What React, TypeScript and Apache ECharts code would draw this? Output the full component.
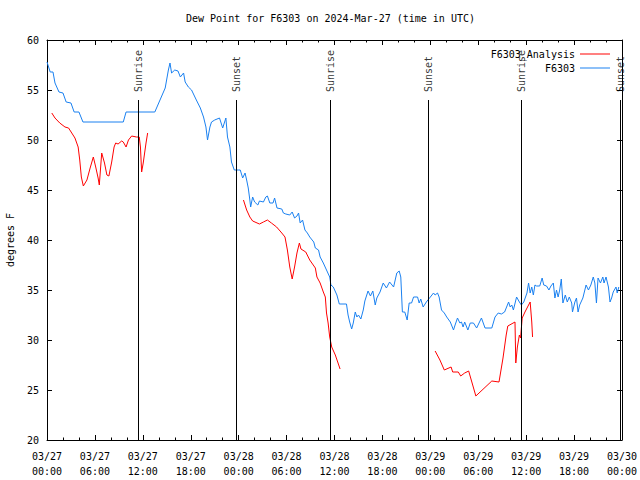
import React, { useEffect, useRef } from "react";
import * as echarts from "echarts";

const chartTitle = "Dew Point for F6303 on 2024-Mar-27 (time in UTC)";
const yAxisName = "degrees F";
const startMonth = "03";
const startDay = 27;
const seriesNames = ["F6303_Analysis", "F6303"];

// Sun events: [hours since 03/27 00:00 UTC, label]
const sunEvents: [number, string][] = [
  [11.43, "Sunrise"],
  [23.73, "Sunset"],
  [35.47, "Sunrise"],
  [47.8, "Sunset"],
  [59.4, "Sunrise"],
  [71.8, "Sunset"],
];
const eventLineTop = 54;
const eventLabelBase = 54.8;

// Observed dew point F6303: [hour, degF]
const f6303: [number, number][] = [
  [0, 57.8], [0.4, 56.8], [0.75, 56.8], [1, 55.7], [1.5, 54.8], [2, 54.7], [2.4, 53.8], [3, 53.7],
  [3.4, 52.8], [4, 52.8], [4.5, 51.8], [9.55, 51.8], [9.9, 52.8], [13.5, 52.8], [14.15, 54], [14.8, 55.2],
  [15.2, 57], [15.4, 57.7], [15.6, 56.7], [16, 57], [16.4, 56.9], [16.7, 56.3], [17.1, 56.7], [17.3, 55.8],
  [17.7, 55.3], [18.1, 55], [18.4, 54.5], [18.7, 54], [19.2, 53.2], [19.6, 52.3], [19.9, 51.3], [20.1, 50],
  [20.4, 51.3], [20.6, 51.8], [21, 52], [21.6, 52.2], [22, 51.2], [22.2, 51.7], [22.4, 52.2], [22.6, 50.3],
  [22.9, 49.3], [23.1, 47.8], [23.45, 47], [23.95, 47], [24.2, 47], [24.5, 46.2], [24.8, 46.7], [25, 46],
  [25.2, 45.2], [25.4, 44], [25.5, 43.3], [25.75, 44.3], [26, 43.8], [26.4, 43.5], [26.6, 43.9], [27.1, 43.8],
  [27.4, 44.3], [27.6, 44.4], [27.9, 43.7], [28.3, 43.7], [28.5, 44.2], [28.8, 43.2], [29.4, 43.1], [29.6, 42.7],
  [29.9, 42.6], [30.4, 42.5], [30.7, 42.8], [31, 42.2], [31.3, 42.4], [31.5, 42.7], [31.7, 41.7], [32, 42],
  [32.3, 41], [32.6, 40.7], [32.9, 40.3], [33.4, 39.8], [33.6, 39.2], [34, 39], [34.2, 38.3], [34.6, 37.7],
  [35, 37], [35.4, 36.3], [35.55, 35.5], [35.85, 35.3], [36.3, 34.5], [36.6, 33.6], [37.5, 33.6], [37.7, 32.5],
  [37.9, 31.8], [38.15, 31.1], [38.35, 31.7], [38.6, 32.8], [38.8, 32.3], [39, 32.5], [39.3, 32.1], [39.6, 33],
  [39.8, 33.9], [40.2, 34.9], [40.5, 34.4], [40.8, 34.9], [41.1, 33.5], [41.3, 34.2], [41.7, 34.8], [42.1, 35.7],
  [42.5, 35.2], [42.9, 35.8], [43.4, 35.3], [43.8, 36.7], [44.1, 36.9], [44.3, 36.3], [44.5, 32.8], [44.8, 32.8],
  [45.1, 32], [45.35, 33.7], [45.65, 33.7], [45.9, 34.3], [46.4, 34.3], [46.6, 33.7], [46.8, 34.1], [47.1, 33.3],
  [47.5, 33.8], [48, 34.3], [48.4, 34.7], [48.6, 34.5], [48.9, 34.7], [49.1, 34.3], [49.4, 33], [49.75, 32.7],
  [50.05, 32.3], [50.5, 31.8], [50.9, 31], [51.1, 31.5], [51.4, 32.2], [51.7, 31.7], [51.9, 31.8], [52.1, 31.3],
  [52.3, 31.8], [52.7, 31], [53, 31.7], [53.4, 31.7], [53.8, 31.2], [54.4, 32.2], [54.85, 31.2], [55.7, 31.2],
  [56.1, 32.3], [56.5, 32.7], [56.9, 32.6], [57.3, 32.8], [57.8, 33.8], [58, 33.3], [58.2, 33.5], [58.4, 33],
  [58.8, 34.3], [59.15, 33.8], [59.4, 33.5], [59.7, 33.8], [60.1, 34.7], [60.3, 35.7], [60.5, 34.7], [60.7, 35.3],
  [60.9, 34.5], [61.1, 35.5], [61.3, 35.4], [61.7, 35.4], [62, 36.2], [62.2, 35.5], [62.55, 35.4], [62.85, 35],
  [63.1, 35.4], [63.4, 35.7], [63.6, 34.2], [63.8, 35], [64, 34.3], [64.2, 35], [64.4, 36.1], [64.6, 33.7],
  [64.9, 34.5], [65.15, 33.8], [65.4, 34.3], [65.7, 33.7], [65.8, 32.8], [66.1, 33.8], [66.3, 34.2], [66.5, 32.8],
  [66.7, 33.5], [67.1, 34.2], [67.5, 35.5], [67.8, 35], [68.1, 35.5], [68.4, 36.3], [68.6, 35.7], [68.8, 33.7],
  [69, 36.2], [69.3, 35.7], [69.6, 36.3], [69.75, 35.7], [70, 36.3], [70.3, 35.3], [70.5, 33.8], [70.7, 34.2],
  [70.9, 34.8], [71.25, 35.3], [71.4, 34.7], [71.6, 35.3],
];

// Analysis dew point, three separate runs
const analysisDay1: [number, number][] = [
  [0.6, 52.7], [1, 52.2], [1.6, 51.7], [2.25, 51.3], [2.7, 51.2], [3.1, 50.7], [3.5, 50.2], [3.9, 49.3],
  [4.1, 48], [4.3, 46.3], [4.55, 45.4], [5, 46], [5.4, 47.2], [5.8, 48.3], [6.1, 47.3], [6.4, 46.2],
  [6.55, 45.5], [6.85, 48.7], [7.2, 47.7], [7.5, 46.5], [7.75, 46.4], [8.1, 47.8], [8.4, 49.3], [8.6, 49.7],
  [8.9, 49.6], [9.35, 49.9], [9.55, 49.8], [9.9, 49.3], [10.2, 50], [10.6, 50.4], [11.2, 50.3], [11.55, 50.3],
  [11.7, 49.3], [11.85, 46.8], [12.05, 47.7], [12.4, 49.7], [12.6, 50.7],
];
const analysisDay2: [number, number][] = [
  [24.6, 44], [25, 43], [25.4, 42.3], [25.75, 41.9], [26.6, 41.6], [27.1, 41.8], [27.6, 42], [28.1, 41.7],
  [28.75, 41.3], [29.4, 40.7], [29.8, 40.3], [30.1, 39], [30.4, 37.3], [30.7, 36.1], [31, 37.3], [31.3, 38.7],
  [31.6, 39.7], [31.8, 39.1], [32.4, 38.8], [32.9, 38], [33.6, 37.2], [33.8, 36.3], [34.2, 35.7], [34.6, 34.8],
  [34.85, 34.3], [35, 32.7], [35.2, 31.7], [35.4, 30.3], [35.65, 29.3], [36.1, 28.5], [36.7, 27.1],
];
const analysisDay3: [number, number][] = [
  [48.6, 28.9], [49.2, 28], [49.75, 27], [50.6, 27.3], [50.8, 26.8], [51.5, 26.8], [51.8, 26.4], [52.3, 26.7],
  [52.8, 26.9], [53.7, 24.4], [55.7, 25.9], [56.6, 25.8], [57.1, 28.2], [57.5, 30.5], [57.7, 31.4], [58.6, 31.8],
  [58.7, 27.7], [58.9, 29.3], [59.15, 30.5], [59.3, 30.2], [59.5, 32.2], [59.85, 32.8], [60.3, 33.5], [60.5, 33.8],
  [60.7, 31.8], [60.8, 30.3],
];

const FONT = "DejaVu Sans Mono";
const RED = "#ff0000";
const BLUE = "#1a80f0";

function fmtX(v: number): string {
  const day = startDay + Math.floor(v / 24);
  const hr = Math.round(v % 24);
  return `${startMonth}/${day}\n${String(hr).padStart(2, "0")}:00`;
}

export default function App() {
  const ref = useRef<HTMLDivElement>(null);
  useEffect(() => {
    if (!ref.current) return;
    document.body.style.margin = "0";
    const chart = echarts.init(ref.current, undefined, { renderer: "svg" });
    const analysis: any[] = [
      ...analysisDay1,
      [analysisDay1[analysisDay1.length - 1][0] + 0.1, null],
      ...analysisDay2,
      [analysisDay2[analysisDay2.length - 1][0] + 0.1, null],
      ...analysisDay3,
    ];
    const xCommon = {
      type: "value" as const,
      min: 0,
      max: 72,
      interval: 6,
      axisLine: { show: true, onZero: false, lineStyle: { color: "#000", width: 1 } },
      axisTick: { show: true, inside: true, length: 5, lineStyle: { color: "#000" } },
      minorTick: { show: true, splitNumber: 3, length: 2.5, lineStyle: { color: "#000" } },
      splitLine: { show: false },
    };
    const yCommon = {
      type: "value" as const,
      min: 20,
      max: 60,
      interval: 5,
      axisLine: { show: true, onZero: false, lineStyle: { color: "#000", width: 1 } },
      axisTick: { show: true, inside: true, length: 5, lineStyle: { color: "#000" } },
      splitLine: { show: false },
    };
    const legendCommon = {
      orient: "horizontal" as const,
      align: "right" as const,
      right: 30,
      padding: 0,
      icon: "rect",
      itemWidth: 30,
      itemHeight: 1,
      selectedMode: false,
      textStyle: { fontFamily: FONT, fontSize: 10, color: "#000" },
    };
    chart.setOption({
      animation: false,
      backgroundColor: "#fff",
      title: {
        text: chartTitle,
        left: 186,
        top: 13,
        padding: 0,
        textStyle: { fontFamily: FONT, fontSize: 10, fontWeight: "normal", color: "#000" },
      },
      legend: [
        { ...legendCommon, top: 49, data: [seriesNames[0]] },
        { ...legendCommon, top: 63, data: [seriesNames[1]] },
      ],
      grid: { left: 47, right: 18, top: 40, bottom: 40, show: false, containLabel: false, outerBoundsMode: "none" },
      xAxis: [
        {
          ...xCommon,
          position: "bottom",
          axisLabel: {
            show: true,
            formatter: fmtX,
            fontFamily: FONT,
            fontSize: 10,
            color: "#000",
            lineHeight: 15,
            margin: 9,
          },
        },
        { ...xCommon, position: "top", axisLabel: { show: false } },
      ],
      yAxis: [
        {
          ...yCommon,
          position: "left",
          name: yAxisName,
          nameLocation: "middle",
          nameGap: 32,
          nameRotate: 90,
          nameTextStyle: { fontFamily: FONT, fontSize: 10, color: "#000" },
          axisLabel: { show: true, fontFamily: FONT, fontSize: 10, color: "#000", margin: 8 },
        },
        { ...yCommon, position: "right", axisLabel: { show: false } },
      ],
      series: [
        {
          name: seriesNames[0],
          type: "line",
          data: analysis,
          symbol: "none",
          showSymbol: false,
          connectNulls: false,
          lineStyle: { color: RED, width: 1 },
          itemStyle: { color: RED },
          z: 3,
        },
        {
          name: seriesNames[1],
          type: "line",
          data: f6303,
          symbol: "none",
          showSymbol: false,
          lineStyle: { color: BLUE, width: 1 },
          itemStyle: { color: BLUE },
          z: 2,
        },
        {
          name: "events",
          type: "scatter",
          data: sunEvents.map(([h, n]) => ({ value: [h, eventLabelBase], name: n })),
          symbolSize: 1,
          itemStyle: { color: "rgba(0,0,0,0)" },
          silent: true,
          label: {
            show: true,
            formatter: "{b}",
            position: "inside",
            rotate: 90,
            align: "left",
            verticalAlign: "middle",
            fontFamily: FONT,
            fontSize: 10,
            color: "#000",
          },
          markLine: {
            silent: true,
            symbol: "none",
            label: { show: false },
            lineStyle: { color: "#000", width: 1, type: "solid" },
            data: sunEvents.map(([h]) => [
              { coord: [h, eventLineTop] },
              { coord: [h, 20] },
            ]),
          },
          z: 4,
        },
      ],
    });
    return () => chart.dispose();
  }, []);
  return <div ref={ref} style={{ width: 640, height: 480 }} />;
}
